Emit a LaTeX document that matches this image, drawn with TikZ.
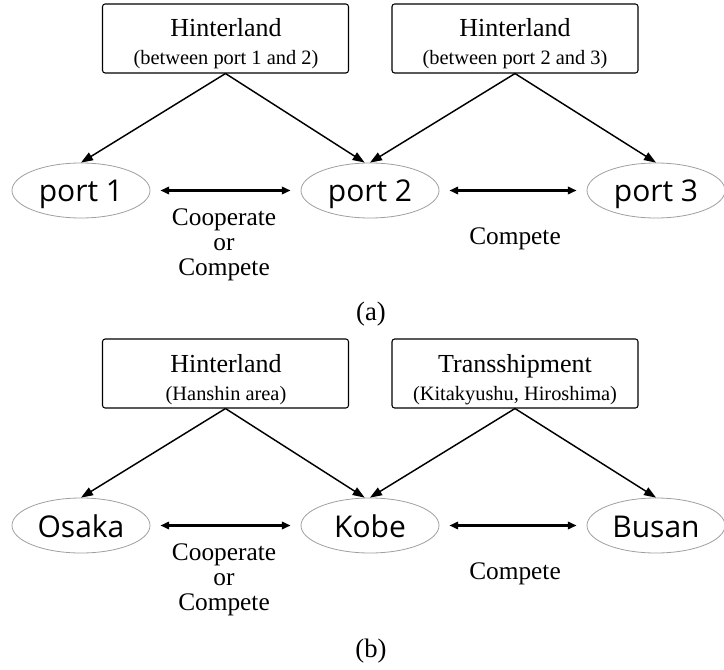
\documentclass[tikz,border=0pt]{standalone}
\usepackage{fontspec}
\setmainfont{Liberation Serif}
\newfontfamily\portfont{Open Sans}
\usetikzlibrary{shapes.geometric,arrows.meta}
\begin{document}
\begin{tikzpicture}[x=0.75pt,y=-0.75pt,
  hbox/.style={draw, line width=0.8pt, rounded corners=2pt, minimum width=184.5pt, minimum height=51.75pt, inner sep=0pt},
  ttl/.style={anchor=base, inner sep=0pt, font=\fontsize{19.5}{22}\selectfont},
  sub/.style={anchor=base, inner sep=0pt, font=\fontsize{15.3}{18}\selectfont},
  portnode/.style={ellipse, draw=gray!75, line width=0.6pt, minimum width=103.5pt, minimum height=41.25pt, inner sep=0pt, text height=17.25pt, text depth=0pt, font=\portfont\fontsize{22.5}{24}\selectfont},
  feed/.style={-{Triangle[length=9pt,width=6.5pt]}, line width=1.1pt},
  rel/.style={{Triangle[length=6.5pt,width=5.5pt]}-{Triangle[length=6.5pt,width=5.5pt]}, line width=1.6pt, shorten <=7.5pt, shorten >=7.5pt},
  lab/.style={align=center, inner sep=0pt, font=\fontsize{19}{18.75}\selectfont},
  capt/.style={inner sep=0pt, font=\fontsize{20}{22}\selectfont}]
\useasboundingbox (0,0) rectangle (724,670);

% (a)
\node[hbox] (ah1) at (225.5,38.5) {};
\node[ttl] (ah1t) at (226,37) {Hinterland};
\node[sub] (ah1s) at (226,65) {(between port 1 and 2)};
\node[hbox] (ah2) at (515,38.5) {};
\node[ttl] (ah2t) at (515,37) {Hinterland};
\node[sub] (ah2s) at (515,65) {(between port 2 and 3)};

\node[portnode] (ap1) at (81,190.5) {port 1};
\node[portnode] (ap2) at (370,190.5) {port 2};
\node[portnode] (ap3) at (656,190.5) {port 3};

\draw[feed] (ah1.south) -- ([xshift=-4pt]ap2.north);
\draw[feed] (ah1.south) -- (ap1.north);
\draw[feed] (ah2.south) -- (ap2.north);
\draw[feed] (ah2.south) -- (ap3.north);

\draw[rel] (ap1.east) -- (ap2.west);
\draw[rel] (ap2.east) -- (ap3.west);

\node[lab] (al1) at (224,245) {Cooperate\\or\\Compete};
\node[lab] (al2) at (515,239) {Compete};
\node[capt] (acap) at (371,314) {(a)};

% (b)
\begin{scope}[shift={(0,335)}]
\node[hbox] (bh1) at (225.5,38.5) {};
\node[ttl] (bh1t) at (226,37) {Hinterland};
\node[sub] (bh1s) at (226,65) {(Hanshin area)};
\node[hbox] (bh2) at (515,38.5) {};
\node[ttl] (bh2t) at (515,37) {Transshipment};
\node[sub] (bh2s) at (515,65) {(Kitakyushu, Hiroshima)};

\node[portnode] (bp1) at (81,190.5) {Osaka};
\node[portnode] (bp2) at (370,190.5) {Kobe};
\node[portnode] (bp3) at (656,190.5) {Busan};

\draw[feed] (bh1.south) -- ([xshift=-4pt]bp2.north);
\draw[feed] (bh1.south) -- (bp1.north);
\draw[feed] (bh2.south) -- (bp2.north);
\draw[feed] (bh2.south) -- (bp3.north);

\draw[rel] (bp1.east) -- (bp2.west);
\draw[rel] (bp2.east) -- (bp3.west);

\node[lab] (bl1) at (224,245) {Cooperate\\or\\Compete};
\node[lab] (bl2) at (515,239) {Compete};
\end{scope}
\node[capt] (bcap) at (371,651) {(b)};
\end{tikzpicture}
\end{document}
